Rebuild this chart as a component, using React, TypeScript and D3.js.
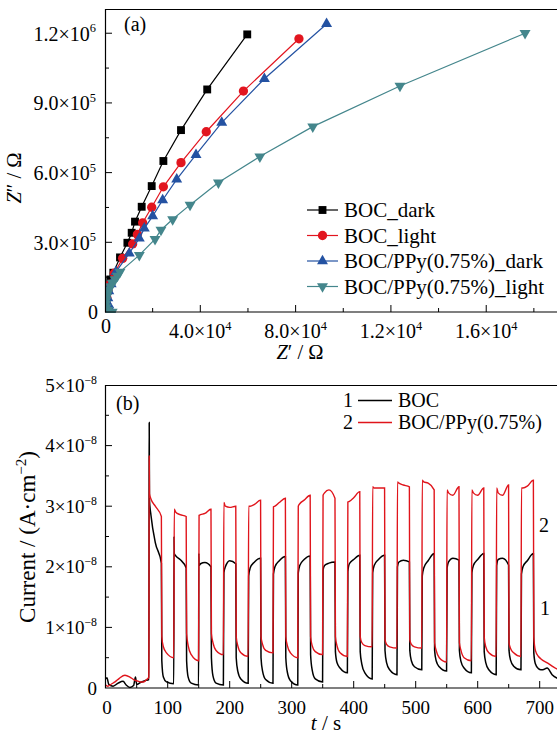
import React from 'react';
import * as d3 from 'd3';

const W = 557;
const H = 734;
const FONT = '"Liberation Serif", "Times New Roman", Times, serif';

// ---------- Panel (a): Nyquist data [Z', Z''] ----------
const bocDark: [number, number][] = [
  [1.5e3, 0], [0.8e3, 2.5e4], [0.6e3, 5e4], [0.8e3, 8e4], [1.3e3, 1.1e5], [2.2e3, 1.4e5],
  [3.5e3, 1.69e5], [6.3e3, 2.35e5], [9.4e3, 2.98e5], [11.2e3, 3.41e5], [12.6e3, 3.89e5],
  [15.4e3, 4.53e5], [19.6e3, 5.42e5], [24.5e3, 6.5e5], [31.9e3, 7.83e5], [42.9e3, 9.58e5],
  [59.7e3, 1.195e6],
];
const bocLight: [number, number][] = [
  [1.5e3, 0], [0.8e3, 3e4], [0.8e3, 6e4], [1.3e3, 9e4], [2.2e3, 1.2e5], [3.9e3, 1.67e5],
  [7.4e3, 2.31e5], [11.6e3, 2.93e5], [13.6e3, 3.34e5], [15.8e3, 3.84e5], [19.6e3, 4.51e5],
  [24.5e3, 5.39e5], [31.9e3, 6.43e5], [42.5e3, 7.76e5], [58.1e3, 9.51e5], [81.4e3, 1.176e6],
];
const ppyDark: [number, number][] = [
  [2.8e3, 0], [1.6e3, 3e4], [1.2e3, 6e4], [1.6e3, 9e4], [2.6e3, 1.2e5], [4.6e3, 1.73e5],
  [10.2e3, 2.53e5], [14.4e3, 3.17e5], [16.5e3, 3.6e5], [20.0e3, 4.13e5], [24.2e3, 4.82e5],
  [30.1e3, 5.71e5], [38.2e3, 6.77e5], [49.0e3, 8.15e5], [66.9e3, 1.004e6], [93.0e3, 1.24e6],
];
const ppyLight: [number, number][] = [
  [3.0e3, 0], [1.2e3, 8e3], [0.5e3, 2e4], [0.3e3, 3.5e4], [0.4e3, 5e4], [0.7e3, 6.5e4],
  [1.1e3, 8e4], [1.6e3, 9.5e4], [2.3e3, 1.1e5], [3.1e3, 1.25e5], [4.2e3, 1.4e5], [5.2e3, 1.55e5],
  [6.3e3, 1.73e5], [14.4e3, 2.45e5], [21.0e3, 3.14e5], [23.5e3, 3.53e5], [28.4e3, 3.99e5],
  [35.7e3, 4.61e5], [47.6e3, 5.57e5], [65.0e3, 6.69e5], [87.2e3, 7.98e5], [123.8e3, 9.73e5],
  [176.3e3, 1.2e6],
];

const seriesA = [
  { name: 'BOC_dark', data: bocDark, color: '#000000', shape: 'square' },
  { name: 'BOC_light', data: bocLight, color: '#e2151f', shape: 'circle' },
  { name: 'BOC/PPy(0.75%)_dark', data: ppyDark, color: '#2452a2', shape: 'triangle' },
  { name: 'BOC/PPy(0.75%)_light', data: ppyLight, color: '#44868c', shape: 'down' },
];

const aYTicks = [0, 3e5, 6e5, 9e5, 1.2e6];
const aYLabels: [string, string][] = [['0', ''], ['3.0×10', '5'], ['6.0×10', '5'], ['9.0×10', '5'], ['1.2×10', '6']];
const aXTicks = [0, 4e4, 8e4, 1.2e5, 1.6e5];
const aXLabels: [string, string][] = [['0', ''], ['4.0×10', '4'], ['8.0×10', '4'], ['1.2×10', '4'], ['1.6×10', '4']];

// ---------- Panel (b): photocurrent (values in 1e-8 A/cm2) ----------
const lightOn = [70, 110, 150, 190, 230, 270, 310, 350, 390, 430, 470, 510, 550, 590, 630, 670];
const lightOff = [90, 130, 170, 210, 250, 290, 330, 370, 410, 450, 490, 530, 570, 610, 650, 690];

const bocPre: [number, number][] = [
  [0, 0.15], [2, 0.17], [5, 0.06], [12, 0.03], [20, 0.08], [28, 0.11], [33, 0.05], [39, 0.01],
  [45, 0.04], [48, 0.18], [50, 0.06], [56, 0.09], [63, 0.12], [69.6, 0.14],
];
// [spike, start, +3 s, +10 s, end]
const bocOn: (number | null)[][] = [
  [4.38, 3.10, 2.85, 2.40, 2.06], [2.50, 2.22, 2.18, 2.12, 1.98], [2.22, 2.02, 2.05, 2.07, 2.00],
  [null, 1.90, 2.00, 2.10, 2.05], [null, 1.85, 1.98, 2.08, 2.14], [null, 1.88, 2.00, 2.10, 2.17],
  [null, 1.90, 2.02, 2.12, 2.18], [null, 1.95, 2.02, 2.06, 2.08], [null, 1.92, 2.05, 2.12, 2.19],
  [null, 1.90, 2.02, 2.12, 2.19], [null, 2.00, 2.08, 2.11, 2.08], [null, 1.85, 1.98, 2.10, 2.22],
  [null, 1.98, 2.08, 2.14, 2.11], [null, 1.90, 2.02, 2.12, 2.22], [null, 2.02, 2.12, 2.14, 2.03],
  [null, 1.88, 2.00, 2.10, 2.22],
];
// [fall, +3 s, +8 s, end]
const bocOff: number[][] = [
  [0.45, 0.18, 0.10, 0.07], [0.45, 0.18, 0.08, 0.05], [0.50, 0.20, 0.08, 0.05], [0.50, 0.28, 0.15, 0.08],
  [0.50, 0.28, 0.14, 0.08], [0.50, 0.26, 0.12, 0.05], [0.55, 0.30, 0.15, 0.10], [0.60, 0.42, 0.33, 0.25],
  [0.60, 0.40, 0.25, 0.15], [0.62, 0.42, 0.30, 0.22], [0.62, 0.45, 0.35, 0.30], [0.62, 0.45, 0.35, 0.28],
  [0.62, 0.44, 0.33, 0.25], [0.60, 0.42, 0.30, 0.22], [0.62, 0.46, 0.36, 0.30], [0.58, 0.40, 0.32, 0.30],
];
const bocTail: [number, number][] = [[705, 0.30], [712, 0.33], [720, 0.22], [730, 0.15]];

const ppyPre: [number, number][] = [
  [0, 0.05], [3, 0.03], [10, 0.07], [15, 0.10], [22, 0.16], [31, 0.21], [39, 0.18], [45, 0.14],
  [50, 0.12], [56, 0.10], [61, 0.10], [66, 0.14], [69.6, 0.18],
];
const ppyOn: (number | null)[][] = [
  [3.83, 3.21, 3.12, 3.00, 2.83], [null, 2.95, 2.90, 2.86, 2.83], [null, 2.85, 2.86, 2.88, 2.95],
  [null, 3.06, 3.00, 2.98, 3.00], [null, 3.00, 3.00, 3.03, 3.10], [null, 2.99, 3.00, 3.06, 3.13],
  [null, 3.00, 3.04, 3.10, 3.18], [null, 3.18, 3.22, 3.27, 3.13], [null, 3.07, 3.08, 3.14, 3.24],
  [null, 3.32, 3.30, 3.30, 3.30], [null, 3.40, 3.38, 3.35, 3.32], [null, 3.43, 3.40, 3.38, 3.27],
  [null, 3.27, 3.22, 3.18, 3.32], [null, 3.27, 3.22, 3.18, 3.30], [null, 3.30, 3.22, 3.18, 3.35],
  [null, 3.30, 3.30, 3.33, 3.43],
];
const ppyOff: number[][] = [
  [0.85, 0.68, 0.58, 0.50], [0.90, 0.70, 0.55, 0.45], [0.90, 0.75, 0.62, 0.55], [0.85, 0.70, 0.58, 0.52],
  [0.85, 0.72, 0.62, 0.58], [0.85, 0.70, 0.58, 0.50], [0.85, 0.70, 0.60, 0.55], [0.85, 0.70, 0.58, 0.52],
  [0.85, 0.75, 0.70, 0.68], [0.80, 0.72, 0.68, 0.66], [0.80, 0.72, 0.68, 0.66], [0.75, 0.62, 0.50, 0.43],
  [0.75, 0.62, 0.50, 0.45], [0.84, 0.68, 0.58, 0.52], [0.75, 0.65, 0.58, 0.52], [0.84, 0.62, 0.52, 0.48],
];
const ppyTail: [number, number][] = [[713, 0.41], [722, 0.35], [730, 0.30]];

const bYTicks = [0, 1e-8, 2e-8, 3e-8, 4e-8, 5e-8];
const bYLabels: [string, string][] = [['0', ''], ['1×10', '−8'], ['2×10', '−8'], ['3×10', '−8'], ['4×10', '−8'], ['5×10', '−8']];
const bXTicks = [0, 100, 200, 300, 400, 500, 600, 700];

function buildTrace(pre: [number, number][], on: (number | null)[][], off: number[][], tail: [number, number][]) {
  const pts: [number, number][] = pre.slice();
  lightOn.forEach((tOn, i) => {
    const tOff = lightOff[i];
    const [spike, s, a3, a10, e] = on[i];
    if (spike != null) pts.push([tOn + 0.2, spike as number]);
    pts.push([tOn + 0.6, s as number], [tOn + 3, a3 as number], [tOn + 10, a10 as number], [tOff - 0.2, e as number]);
    const [f, b3, b8, be] = off[i];
    const tEnd = i < lightOn.length - 1 ? lightOn[i + 1] - 0.2 : tOff + 12;
    pts.push([tOff + 0.5, f], [tOff + 3, b3], [tOff + 8, b8], [tEnd, be]);
  });
  tail.forEach((p) => pts.push(p));
  return pts.map(([t, v]) => [t, v * 1e-8] as [number, number]);
}

const txt = { fontFamily: FONT };

function Label({ x, y, base, sup, anchor, fs }: { x: number; y: number; base: string; sup: string; anchor: string; fs: number }) {
  return (
    <text x={x} y={y} textAnchor={anchor} fontSize={fs} style={txt} fill="#000">
      {base}
      {sup && (
        <tspan dy={-fs * 0.42} fontSize={fs * 0.62}>
          {sup}
        </tspan>
      )}
    </text>
  );
}

function Marker({ shape, x, y, color }: { shape: string; x: number; y: number; color: string }) {
  let path = '';
  let rot = 0;
  if (shape === 'square') path = d3.symbol(d3.symbolSquare, 62)() as string;
  else if (shape === 'circle') path = d3.symbol(d3.symbolCircle, 68)() as string;
  else if (shape === 'triangle') path = d3.symbol(d3.symbolTriangle, 52)() as string;
  else {
    path = d3.symbol(d3.symbolTriangle, 52)() as string;
    rot = 180;
  }
  return <path d={path} transform={`translate(${x},${y}) rotate(${rot})`} fill={color} stroke="none" />;
}

export default function App() {
  // panel (a)
  const ax = d3.scaleLinear().domain([0, 1.9e5]).range([105, 557.7]);
  const ay = d3.scaleLinear().domain([0, 1.3e6]).range([312, 10]);
  const aLine = d3.line<[number, number]>().x((d) => ax(d[0])).y((d) => ay(d[1]));
  const aYMinor = d3.range(1.5e5, 1.3e6, 3e5);
  const aXMinor = d3.range(2e4, 1.9e5, 4e4);

  // panel (b)
  const bx = d3.scaleLinear().domain([0, 730]).range([105.7, 558.3]);
  const by = d3.scaleLinear().domain([0, 5e-8]).range([688, 385]);
  const bLine = d3.line<[number, number]>().x((d) => bx(d[0])).y((d) => by(d[1])).curve(d3.curveMonotoneX);
  const bYMinor = d3.range(0.5e-8, 5e-8, 1e-8);
  const bXMinor = d3.range(50, 730, 100);
  const bocTrace = buildTrace(bocPre, bocOn, bocOff, bocTail);
  const ppyTrace = buildTrace(ppyPre, ppyOn, ppyOff, ppyTail);

  const legendRows = [210, 235.5, 261, 286.5];

  return (
    <svg width={W} height={H} style={{ position: 'absolute', left: 0, top: 0, background: '#fff', fontFamily: FONT }}>
      <rect x={0} y={0} width={W} height={H} fill="#fff" />
      {/* ======== Panel (a) ======== */}
      <g>
        <clipPath id="clipA">
          <rect x={105} y={9} width={460} height={304} />
        </clipPath>
        <g clipPath="url(#clipA)">
          {seriesA.map((s) => (
            <g key={s.name}>
              <path d={aLine(s.data) as string} fill="none" stroke={s.color} strokeWidth={1.2} />
              {s.data.map((d, i) => (
                <Marker key={i} shape={s.shape} x={ax(d[0])} y={ay(d[1])} color={s.color} />
              ))}
            </g>
          ))}
        </g>
        {/* frame */}
        <path d={`M${W + 2},9.5 H105.5 V312 H${W + 2}`} fill="none" stroke="#000" strokeWidth={1.2} />
        {aYTicks.map((t, i) => (
          <g key={'ayt' + i}>
            {t > 0 && <line x1={105} x2={112} y1={ay(t)} y2={ay(t)} stroke="#000" strokeWidth={1} />}
            <Label x={t === 0 ? 98 : 96} y={t === 0 ? 319 : ay(t) + 7.5} base={aYLabels[i][0]} sup={aYLabels[i][1]} anchor="end" fs={20} />
          </g>
        ))}
        {aYMinor.map((t, i) => (
          <line key={'aym' + i} x1={105} x2={109} y1={ay(t)} y2={ay(t)} stroke="#000" strokeWidth={1} />
        ))}
        {aXTicks.map((t, i) => (
          <g key={'axt' + i}>
            {t > 0 && <line x1={ax(t)} x2={ax(t)} y1={312} y2={305} stroke="#000" strokeWidth={1} />}
            <Label x={t === 0 ? 106 : ax(t)} y={t === 0 ? 333 : 338} base={aXLabels[i][0]} sup={aXLabels[i][1]} anchor="middle" fs={20} />
          </g>
        ))}
        {aXMinor.map((t, i) => (
          <line key={'axm' + i} x1={ax(t)} x2={ax(t)} y1={312} y2={308} stroke="#000" strokeWidth={1} />
        ))}
        <text x={124} y={31} fontSize={20} style={txt}>(a)</text>
        <text x={300} y={359} textAnchor="middle" fontSize={20.5} style={txt}>
          <tspan fontStyle="italic">Z</tspan>′ / Ω
        </text>
        <text transform="translate(21,178) rotate(-90)" textAnchor="middle" fontSize={20.5} style={txt}>
          <tspan fontStyle="italic">Z</tspan>″ / Ω
        </text>
        {/* legend */}
        {seriesA.map((s, i) => (
          <g key={'lg' + i}>
            <line x1={307} x2={338} y1={legendRows[i]} y2={legendRows[i]} stroke={s.color} strokeWidth={1.2} />
            <Marker shape={s.shape} x={322.5} y={legendRows[i]} color={s.color} />
            <text x={344} y={legendRows[i] + 7} fontSize={21} style={txt}>
              {s.name}
            </text>
          </g>
        ))}
      </g>

      {/* ======== Panel (b) ======== */}
      <g>
        <clipPath id="clipB">
          <rect x={105} y={385} width={460} height={304} />
        </clipPath>
        <g clipPath="url(#clipB)">
          <path d={bLine(bocTrace) as string} fill="none" stroke="#000" strokeWidth={1.5} />
          <path d={bLine(ppyTrace) as string} fill="none" stroke="#e0141b" strokeWidth={1.4} />
        </g>
        <path d={`M${W + 2},385.5 H105.5 V688 H${W + 2}`} fill="none" stroke="#000" strokeWidth={1.2} />
        {bYTicks.map((t, i) => (
          <g key={'byt' + i}>
            {t > 0 && t < 5e-8 && <line x1={105} x2={112} y1={by(t)} y2={by(t)} stroke="#000" strokeWidth={1} />}
            <Label x={97} y={by(t) + 6.5} base={bYLabels[i][0]} sup={bYLabels[i][1]} anchor="end" fs={19} />
          </g>
        ))}
        {bYMinor.map((t, i) => (
          <line key={'bym' + i} x1={105} x2={109} y1={by(t)} y2={by(t)} stroke="#000" strokeWidth={1} />
        ))}
        {bXTicks.map((t, i) => (
          <g key={'bxt' + i}>
            {t > 0 && <line x1={bx(t)} x2={bx(t)} y1={688} y2={681} stroke="#000" strokeWidth={1} />}
            <text x={t === 0 ? 107 : bx(t)} y={714} textAnchor="middle" fontSize={19} style={txt}>
              {String(t)}
            </text>
          </g>
        ))}
        {bXMinor.map((t, i) => (
          <line key={'bxm' + i} x1={bx(t)} x2={bx(t)} y1={688} y2={684} stroke="#000" strokeWidth={1} />
        ))}
        <text x={116} y={410} fontSize={20} style={txt}>(b)</text>
        <text x={326} y={730} textAnchor="middle" fontSize={21} style={txt}>
          <tspan fontStyle="italic">t</tspan> / s
        </text>
        <text transform="translate(35,537) rotate(-90)" textAnchor="middle" fontSize={23} style={txt}>
          Current / (A·cm<tspan dy={-9} fontSize={15}>−2</tspan>
          <tspan dy={9}>)</tspan>
        </text>
        {/* legend */}
        <text x={353} y={407} textAnchor="end" fontSize={20} style={txt}>1</text>
        <line x1={358} x2={392} y1={400.5} y2={400.5} stroke="#000" strokeWidth={1.3} />
        <text x={398} y={407} fontSize={20} style={txt}>BOC</text>
        <text x={353} y={429} textAnchor="end" fontSize={20} style={txt}>2</text>
        <line x1={358} x2={392} y1={422.5} y2={422.5} stroke="#e0141b" strokeWidth={1.3} />
        <text x={398} y={429} fontSize={20} style={txt}>BOC/PPy(0.75%)</text>
        <text x={539} y={532} fontSize={20} style={txt}>2</text>
        <text x={540} y={615} fontSize={20} style={txt}>1</text>
      </g>
    </svg>
  );
}
